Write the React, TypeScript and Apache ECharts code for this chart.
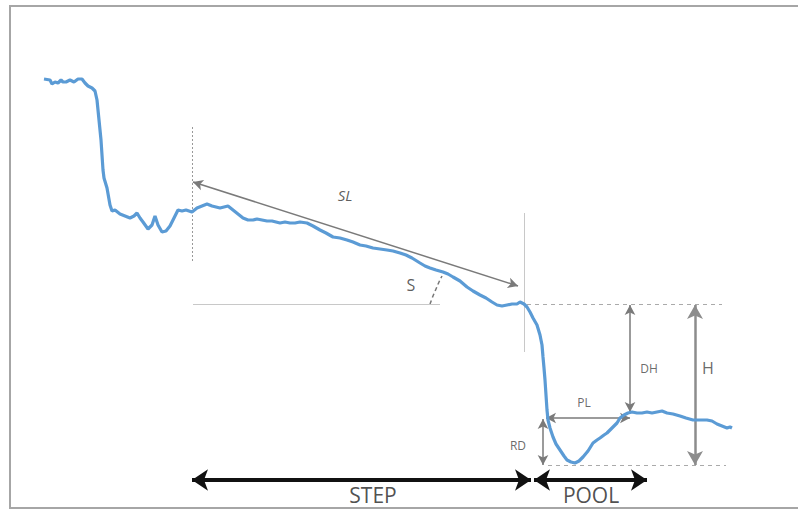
import React, { useEffect, useRef } from "react";
import * as echarts from "echarts";

// Longitudinal bed profile (distance along channel, depth below top of frame; both in drawing units)
const profileX = [44, 50, 52, 55, 58, 61, 63, 66, 70, 74, 78, 82, 85, 88, 92, 95, 97, 99, 101, 103, 104, 107, 110, 112, 115, 120, 125, 130, 134, 137, 140, 143, 148, 152, 155, 158, 162, 166, 170, 174, 178, 182, 186, 192, 197, 202, 207, 212, 216, 220, 224, 228, 233, 238, 243, 248, 253, 257, 262, 267, 272, 276, 280, 285, 290, 295, 300, 307, 313, 320, 326, 333, 340, 347, 353, 360, 366, 373, 380, 387, 393, 400, 406, 412, 420, 425, 430, 436, 443, 448, 453, 460, 467, 473, 480, 486, 492, 497, 502, 507, 512, 517, 520, 524, 527, 530, 533, 537, 540, 542, 543, 544, 545, 546, 547, 548, 550, 553, 556, 560, 564, 567, 571, 575, 579, 583, 588, 593, 597, 600, 604, 607, 610, 613, 617, 620, 624, 628, 632, 637, 642, 647, 652, 657, 662, 667, 673, 680, 686, 693, 700, 707, 712, 717, 722, 727, 730, 732];
const profileY = [79, 80, 84, 82, 83, 80, 82, 82, 80, 82, 79, 79, 83, 86, 88, 91, 100, 120, 140, 170, 178, 188, 205, 211, 210, 214, 216, 218, 216, 213, 218, 222, 229, 225, 216, 225, 232, 231, 226, 218, 210, 211, 210, 212, 208, 206, 204, 206, 207, 208, 207, 206, 210, 214, 218, 220, 220, 219, 220, 221, 221, 222, 223, 222, 223, 223, 222, 223, 226, 230, 233, 237, 238, 240, 242, 245, 246, 248, 249, 250, 251, 253, 255, 258, 263, 266, 268, 270, 272, 274, 277, 281, 287, 291, 295, 298, 302, 305, 306, 305, 304, 304, 302, 304, 307, 312, 318, 325, 335, 345, 357, 368, 380, 395, 410, 420, 428, 437, 444, 450, 456, 460, 462, 463, 461, 457, 451, 443, 440, 438, 435, 433, 430, 427, 423, 418, 415, 413, 412, 413, 413, 412, 413, 412, 411, 413, 414, 416, 418, 420, 420, 420, 421, 424, 426, 428, 427, 428];

// Annotation segments: [x1, y1, x2, y2]
const guideDottedLeft = [192, 127, 192, 262];
const guideRight = [524, 213, 524, 352];
const slopeBase = [193, 304, 440, 304];
const crestLine = [527, 304, 722, 304];
const poolBottomLine = [548, 465, 726, 465];
const angleArcX = [430, 433, 436, 439, 442];
const angleArcY = [304, 296, 289, 282, 276];

const arrowSL = [193, 182, 518, 286];
const arrowDH = [630, 305, 630, 412];
const arrowPL = [546, 418, 630, 418];
const arrowRD = [543, 419, 543, 465];
const arrowH = [695, 305, 695, 465];
const arrowStep = [192, 480, 531, 480];
const arrowPool = [534, 480, 647, 480];

// Labels: [x, y, text]
const labelNames = ["SL", "S", "DH", "PL", "RD", "H", "STEP", "POOL"];
const labelX = [345, 411, 649, 584, 518, 708, 373, 591];
const labelY = [195, 285, 368, 402, 445, 368, 495, 495];

const seg = (s: number[], lineStyle?: any) => [
  { coord: [s[0], s[1]], lineStyle },
  { coord: [s[2], s[3]] },
];

export default function App() {
  const ref = useRef<HTMLDivElement>(null);
  useEffect(() => {
    if (!ref.current) return;
    const chart = echarts.init(ref.current, null, { renderer: "svg" });
    const labelStyles: Record<string, any> = {
      SL: { fontSize: 15, fontStyle: "italic", color: "#333" },
      S: { fontSize: 16, color: "#333" },
      DH: { fontSize: 12, color: "#444" },
      PL: { fontSize: 12, color: "#444" },
      RD: { fontSize: 12, color: "#444" },
      H: { fontSize: 16, color: "#444" },
      STEP: { fontSize: 21, color: "#222" },
      POOL: { fontSize: 21, color: "#222" },
    };
    chart.setOption({
      animation: false,
      grid: { left: 0, right: 0, top: 0, bottom: 0 },
      xAxis: { type: "value", min: 0, max: 798, show: false },
      yAxis: { type: "value", min: 0, max: 510, inverse: true, show: false },
      graphic: [
        {
          type: "polyline",
          shape: { points: [[820, 6], [10, 6], [10, 508], [820, 508]] },
          style: { fill: "none", stroke: "#a6a6a6", lineWidth: 2 },
          silent: true,
        },
      ],
      series: [
        {
          type: "line",
          data: profileX.map((x, i) => [x, profileY[i]]),
          showSymbol: false,
          lineStyle: { color: "#5b9bd5", width: 3.2 },
          silent: true,
          z: 5,
        },
        {
          type: "line",
          data: angleArcX.map((x, i) => [x, angleArcY[i]]),
          showSymbol: false,
          smooth: true,
          lineStyle: { color: "#777", width: 1.5, type: [4, 3] },
          silent: true,
          markLine: {
            silent: true,
            symbol: ["none", "none"],
            label: { show: false },
            data: [
              seg(guideDottedLeft, { color: "#999", width: 1, type: [2, 2] }),
              seg(guideRight, { color: "#c8c8c8", width: 1, type: "solid" }),
              seg(slopeBase, { color: "#c8c8c8", width: 1, type: "solid" }),
              seg(crestLine, { color: "#aaa", width: 1.2, type: [4, 4] }),
              seg(poolBottomLine, { color: "#aaa", width: 1.2, type: [4, 4] }),
            ],
          },
        },
        {
          type: "line",
          data: [],
          markLine: {
            silent: true,
            symbol: ["arrow", "arrow"],
            symbolSize: [8, 10],
            label: { show: false },
            lineStyle: { color: "#7a7a7a", width: 1.5, type: "solid" },
            data: [seg(arrowSL), seg(arrowDH), seg(arrowPL), seg(arrowRD)],
          },
        },
        {
          type: "line",
          data: [],
          markLine: {
            silent: true,
            symbol: ["arrow", "arrow"],
            symbolSize: [12, 14],
            label: { show: false },
            lineStyle: { color: "#8c8c8c", width: 2.5, type: "solid" },
            data: [seg(arrowH)],
          },
        },
        {
          type: "line",
          data: [],
          markLine: {
            silent: true,
            symbol: ["arrow", "arrow"],
            symbolSize: [16, 16],
            label: { show: false },
            lineStyle: { color: "#111", width: 4, type: "solid" },
            data: [seg(arrowStep), seg(arrowPool)],
          },
        },
        {
          type: "scatter",
          symbolSize: 0,
          silent: true,
          data: labelNames.map((n, i) => ({
            value: [labelX[i], labelY[i]],
            label: {
              show: true,
              position: "inside",
              formatter: n,
              fontFamily: "Open Sans",
              ...labelStyles[n],
            },
          })),
          z: 10,
        },
      ],
    });
    return () => chart.dispose();
  }, []);
  return (
    <div
      ref={ref}
      style={{ position: "absolute", left: 0, top: 0, width: 798, height: 510, background: "#fff" }}
    />
  );
}
